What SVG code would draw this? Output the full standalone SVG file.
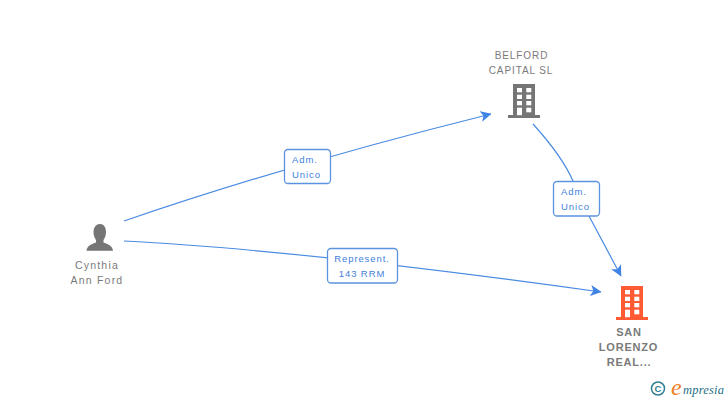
<svg xmlns="http://www.w3.org/2000/svg" width="728" height="400" viewBox="0 0 728 400">
<style>
.lbl{font-family:"Liberation Sans",Arial,sans-serif;font-size:10px;letter-spacing:.9px;fill:#7a7a7a;text-anchor:middle}
.low{font-size:10.500px;letter-spacing:1.200px}
.bold{font-weight:bold;font-size:11px;letter-spacing:.8px}
.edge{font-family:"Liberation Sans",Arial,sans-serif;font-size:9.500px;letter-spacing:.9px;fill:#3f7fdc;text-anchor:middle}
.box{fill:#fff;stroke:#5b93e0;stroke-width:1.300}
.c{fill:none;stroke:#4a8be3;stroke-width:1.200}
</style>
<defs>
<marker id="a" viewBox="0 0 10 10" refX="9.500" refY="5" markerWidth="11" markerHeight="11" markerUnits="userSpaceOnUse" orient="auto"><path d="M0 0L10 5L0 10L2.500 5Z" fill="#3f83e4"/></marker>
<path id="bld" d="M5 0H27V31H32V34H0V31H5Z"/>
<g id="win" fill="#fff"><rect x="9" y="4" width="5" height="4.300"/><rect x="18.300" y="4" width="5" height="4.300"/><rect x="9" y="10.700" width="5" height="4.300"/><rect x="18.300" y="10.700" width="5" height="4.300"/><rect x="9" y="17" width="5" height="4.300"/><rect x="18.300" y="17" width="5" height="4.300"/><rect x="9" y="23.700" width="5" height="7.500"/><rect x="18.300" y="23.700" width="5" height="4.600"/></g>
</defs>
<rect width="728" height="400" fill="#fff"/>
<g id="connectors">
<path class="c" marker-end="url(#a)" d="M124 221Q290 164 491 114"/>
<path class="c" marker-end="url(#a)" d="M124 241Q300 250 601 292"/>
<path class="c" marker-end="url(#a)" d="M533 124C552 145 566 165 573 181L589 216L621 276"/>
</g>
<g id="n-belford">
<text class="lbl" x="521.500" y="59">BELFORD</text>
<text class="lbl" x="521" y="74">CAPITAL SL</text>
<use href="#bld" x="508" y="84" fill="#757575"/>
<use href="#win" x="508" y="84"/>
</g>
<g id="n-sanlorenzo">
<use href="#bld" x="616" y="286" fill="#ff5a33"/>
<use href="#win" x="616" y="286"/>
<text class="lbl bold" x="629" y="336">SAN</text>
<text class="lbl bold" x="628.500" y="351">LORENZO</text>
<text class="lbl bold" x="629" y="366">REAL...</text>
</g>
<g id="n-cynthia">
<path fill="#757575" d="M100 224c3.800 0 6 3.500 6 8c0 3.500-1.200 6-2.500 8v2.500c3 1.500 9 2.500 9.500 8.200H86.500c.5-5.700 6.500-6.700 9.500-8.200V240c-1.300-2-2.500-4.500-2.500-8c0-4.500 2.700-8 6.500-8Z"/>
<text class="lbl low" x="97" y="268.500">Cynthia</text>
<text class="lbl low" x="97" y="283.500">Ann Ford</text>
</g>
<g id="e1">
<rect class="box" x="284.500" y="149.500" width="46" height="34" rx="3.500"/>
<text class="edge" x="305" y="163">Adm.</text>
<text class="edge" x="306.500" y="178">Unico</text>
</g>
<g id="e2">
<rect class="box" x="327.500" y="248.500" width="70" height="34.500" rx="3.500"/>
<text class="edge" x="362" y="262">Represent.</text>
<text class="edge" x="362" y="276.500">143 RRM</text>
</g>
<g id="e3">
<rect class="box" x="553.500" y="181.500" width="46" height="34.500" rx="3.500"/>
<text class="edge" x="574" y="195">Adm.</text>
<text class="edge" x="575.500" y="210">Unico</text>
</g>
<g id="logo">
<circle cx="658" cy="388.500" r="6.500" fill="none" stroke="#2f7f92" stroke-width="1.500"/>
<text x="658" y="392" font-family="Liberation Sans,sans-serif" font-size="9.500" font-weight="bold" fill="#2f7f92" text-anchor="middle">C</text>
<text x="671" y="394.500" font-family="Liberation Serif,serif" font-style="italic" font-size="24" fill="#f08020">e</text>
<text x="683" y="394" font-family="Liberation Serif,serif" font-style="italic" font-size="12.500" letter-spacing=".2" fill="#1f6f86">mpresia</text>
</g>
</svg>
